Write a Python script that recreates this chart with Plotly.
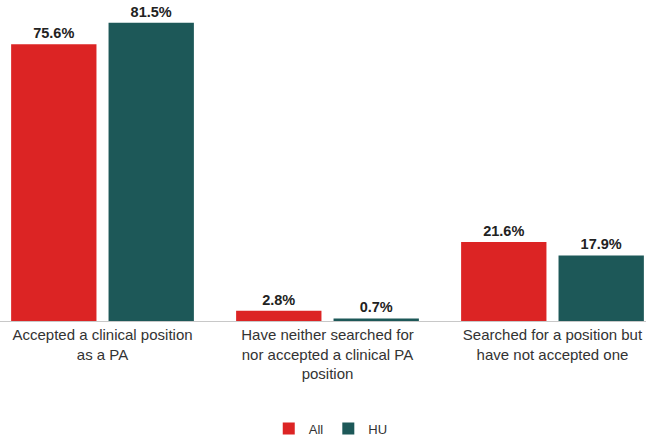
import plotly.graph_objects as go

categories = [
    "Accepted a clinical position<br>as a PA",
    "Have neither searched for<br>nor accepted a clinical PA<br>position",
    "Searched for a position but<br>have not accepted one",
]
all_values = [75.6, 2.8, 21.6]
hu_values = [81.5, 0.7, 17.9]
series_names = ["All", "HU"]
colors = ["#dc2424", "#1d5858"]

fig = go.Figure()
for name, vals, col in zip(series_names, [all_values, hu_values], colors):
    fig.add_trace(go.Bar(
        x=categories, y=vals, name=name, marker_color=col,
        marker_line_width=0,
        text=[f"<b>{v:.1f}%</b>" for v in vals], textposition="outside",
        textfont=dict(family="Liberation Sans, Arial", size=14.5, color="#222222"),
        cliponaxis=False,
    ))

fig.update_layout(
    width=646, height=442,
    margin=dict(l=0, r=0, t=0, b=121, autoexpand=False),
    paper_bgcolor="white", plot_bgcolor="white",
    barmode="group", bargap=0.134, bargroupgap=0.124,
    font=dict(family="Liberation Sans, Arial", size=15, color="#333333"),
    xaxis=dict(
        type="category", range=[-0.4556, 2.4156], automargin=False,
        showline=True, linecolor="#c8c8c8", linewidth=1,
        ticks="", tickfont=dict(size=15, color="#333333"),
        showgrid=False,
    ),
    yaxis=dict(range=[0, 87.7], visible=False, showgrid=False, zeroline=False,
               automargin=False),
    legend=dict(
        orientation="h", x=0.512, xanchor="center", y=-0.335, yanchor="middle",
        font=dict(size=13, color="#333333"), itemwidth=30,
        traceorder="normal",
    ),
)

fig.write_html("out.html", post_script="document.body.style.margin='0';",
               config={"displayModeBar": False})
